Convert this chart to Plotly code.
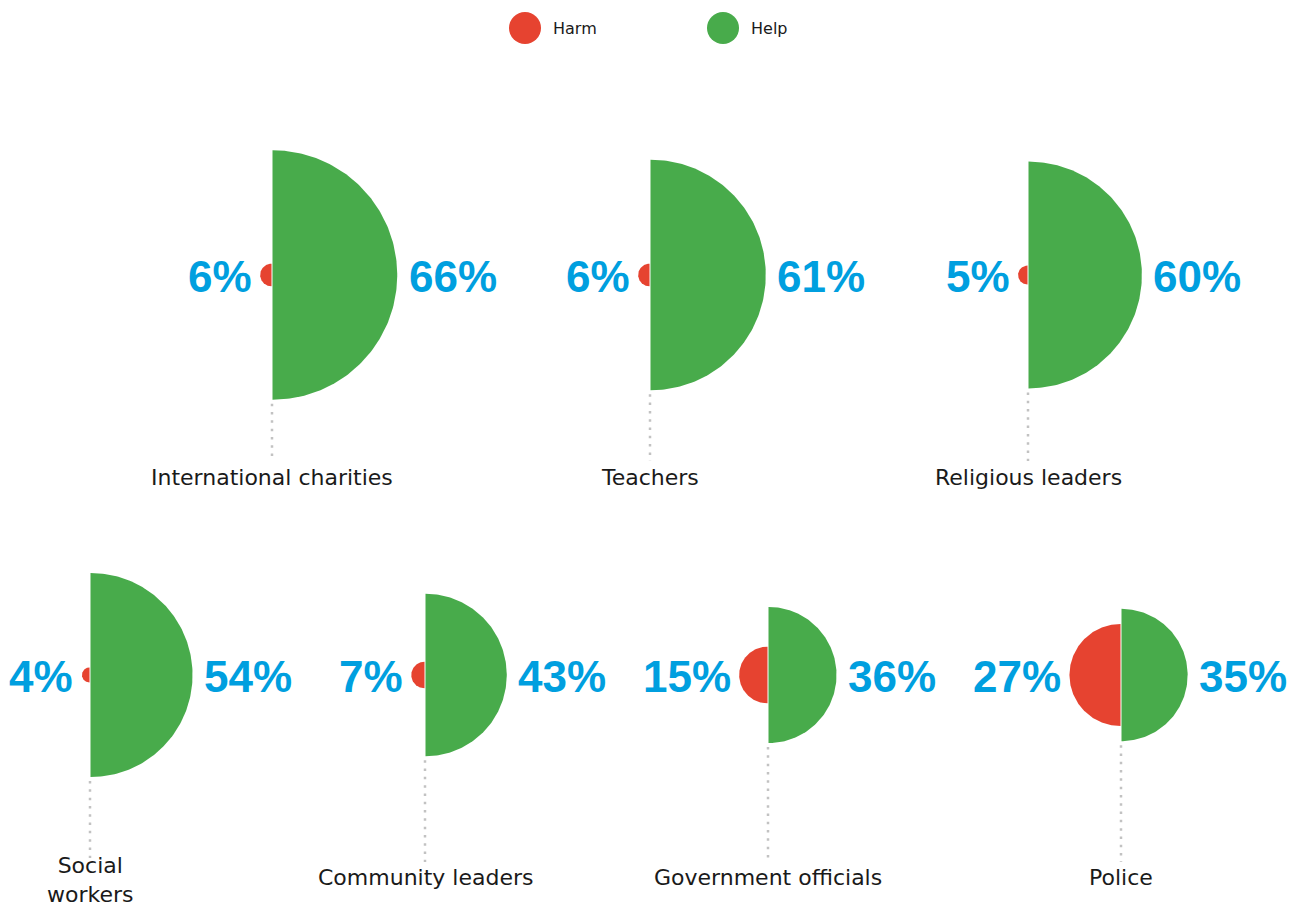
import numpy as np
import plotly.graph_objects as go

# ---- data ----
categories = ["International charities", "Teachers", "Religious leaders",
              "Social workers", "Community leaders", "Government officials", "Police"]
category_labels = ["International charities", "Teachers", "Religious leaders",
                   "Social<br>workers", "Community leaders", "Government officials", "Police"]
harm = [6, 6, 5, 4, 7, 15, 27]
help_ = [66, 61, 60, 54, 43, 36, 35]

# ---- layout constants (page pixel space) ----
PAGE_W, PAGE_H = 1302, 918
BODY_MARGIN = 8
centers_x = [272, 650, 1028, 90, 425, 768, 1121]
centers_y = [275, 275, 275, 675, 675, 675, 675]
line_end_y = [461, 461, 461, 858, 862, 862, 862]
label_y = [477, 477, 477, 880, 877, 877, 877]
K = 1.89  # px per percentage point (radius)

RED = "#E64330"
GREEN = "#48AB4B"
BLUE = "#009FDF"
GREY_DOT = "#C2C2C2"
TXT = "#1a1a1a"
LABEL_FONT = "DejaVu Sans, Verdana, sans-serif"
PCT_FONT = "Liberation Sans, Arial, sans-serif"

fig = go.Figure()


def half_disc(cx, cy, r, side):
    if side == "right":
        t = np.linspace(-np.pi / 2, np.pi / 2, 160)
    else:
        t = np.linspace(np.pi / 2, 3 * np.pi / 2, 160)
    xs = cx + r * np.cos(t)
    ys = cy + r * np.sin(t)
    return np.append(xs, xs[0]), np.append(ys, ys[0])


annotations = []
for i, cat in enumerate(categories):
    cx, cy = centers_x[i], centers_y[i]
    rh = K * harm[i]
    rg = K * help_[i]
    # dotted connector
    fig.add_trace(go.Scatter(x=[cx, cx], y=[cy + rg + 4, line_end_y[i]], mode="lines",
                             line=dict(color=GREY_DOT, width=2.5, dash="2.5px,5.8px"),
                             hoverinfo="skip", showlegend=False))
    xs, ys = half_disc(cx - 0.5, cy, rh, "left")
    fig.add_trace(go.Scatter(x=xs, y=ys, fill="toself", fillcolor=RED, mode="lines",
                             line=dict(width=0, color=RED), name="Harm",
                             showlegend=False, hoverinfo="skip"))
    xs, ys = half_disc(cx + 0.5, cy, rg, "right")
    fig.add_trace(go.Scatter(x=xs, y=ys, fill="toself", fillcolor=GREEN, mode="lines",
                             line=dict(width=0, color=GREEN), name="Help",
                             showlegend=False, hoverinfo="skip"))
    annotations.append(dict(x=cx - rh - 9, y=cy + 1, text=f"{harm[i]}%", xanchor="right",
                            yanchor="middle", showarrow=False, borderpad=0, borderwidth=0,
                            font=dict(family=PCT_FONT, size=44, color=BLUE, weight="bold")))
    annotations.append(dict(x=cx + rg + 12, y=cy + 1, text=f"{help_[i]}%", xanchor="left",
                            yanchor="middle", showarrow=False, borderpad=0, borderwidth=0,
                            font=dict(family=PCT_FONT, size=44, color=BLUE, weight="bold")))
    annotations.append(dict(x=cx, y=label_y[i], text=category_labels[i], xanchor="center",
                            yanchor="middle", showarrow=False, borderpad=0, borderwidth=0,
                            font=dict(family=LABEL_FONT, size=22, color=TXT)))

# legend (manual)
fig.add_trace(go.Scatter(x=[525, 723], y=[28, 28], mode="markers",
                         marker=dict(size=32, color=[RED, GREEN]),
                         hoverinfo="skip", showlegend=False))
annotations.append(dict(x=551, y=28, text="Harm", xanchor="left", yanchor="middle",
                        showarrow=False, font=dict(family=LABEL_FONT, size=16, color=TXT)))
annotations.append(dict(x=749, y=28, text="Help", xanchor="left", yanchor="middle",
                        showarrow=False, font=dict(family=LABEL_FONT, size=16, color=TXT)))

W = PAGE_W - 2 * BODY_MARGIN
H = PAGE_H - 2 * BODY_MARGIN
fig.update_layout(
    width=W, height=H,
    margin=dict(l=0, r=0, t=0, b=0),
    paper_bgcolor="white", plot_bgcolor="white",
    xaxis=dict(range=[BODY_MARGIN, BODY_MARGIN + W], visible=False, fixedrange=True),
    yaxis=dict(range=[BODY_MARGIN + H, BODY_MARGIN], visible=False, fixedrange=True),
    annotations=annotations,
    showlegend=False,
)

fig.write_html("out.html")
